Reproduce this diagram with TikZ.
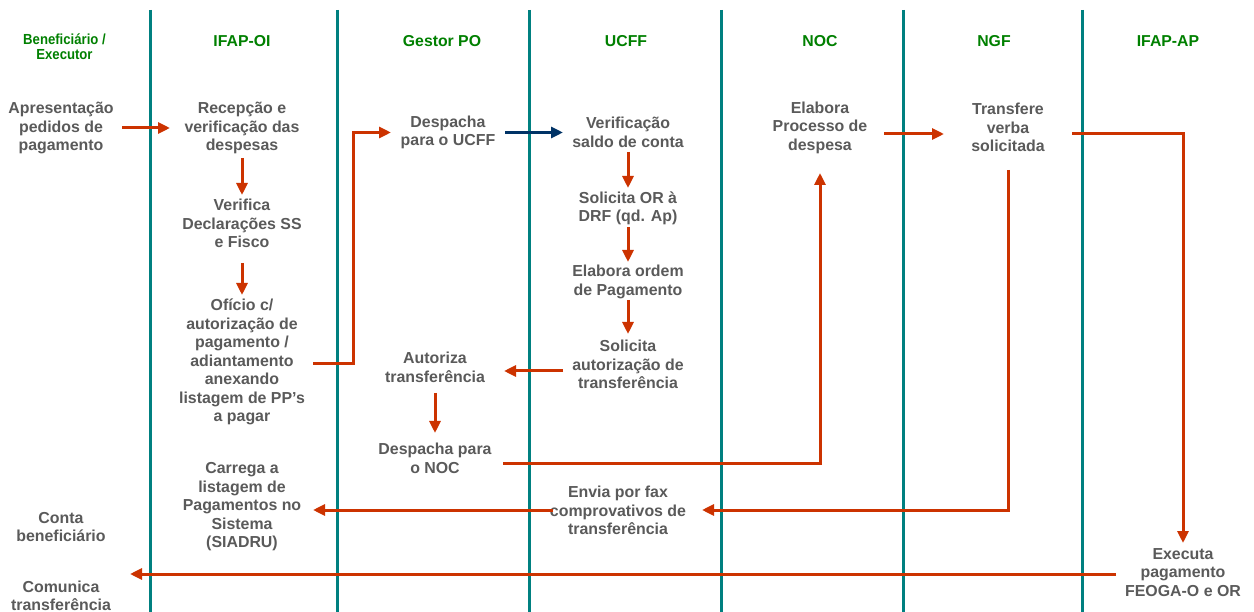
\documentclass[tikz,border=0pt]{standalone}
\usepackage{fontspec}
\setmainfont{Liberation Sans}
\newfontfamily\narrowhead[FakeStretch=0.9]{Liberation Sans}
\usetikzlibrary{arrows.meta,calc}
\definecolor{lanecol}{RGB}{0,128,128}
\definecolor{headcol}{RGB}{0,128,0}
\definecolor{txtcol}{RGB}{90,90,90}
\definecolor{arrcol}{RGB}{204,51,0}
\definecolor{bluearr}{RGB}{0,51,102}
\begin{document}
\begin{tikzpicture}[x=1pt,y=-1pt,
 lane/.style={draw=lanecol,line width=3pt},
 head/.style={text=headcol,font=\fontsize{15.8}{18}\selectfont\bfseries,inner sep=0pt,align=center},
 smallhead/.style={text=headcol,font=\narrowhead\fontsize{14.6}{15.3}\selectfont\bfseries,inner sep=0pt,align=center},
 task/.style={text=txtcol,font=\fontsize{15.9}{18.5}\selectfont\bfseries,inner sep=0pt,align=center},
 arr/.style={draw=arrcol,line width=3pt,-{Triangle[length=12pt,width=11pt]}},
 barr/.style={arr,draw=bluearr},
]
\fill[white] (0,0) rectangle (1254,612);
\useasboundingbox (0,0) rectangle (1254,612);

% swim lane separators
\foreach \lx in {150,337,529,721,903,1082}
  \draw[lane] (\lx,10) -- (\lx,612);

% headers
\node[smallhead] (h0) at (64.5,47) {Beneficiário /\\Executor};
\node[head] (h1) at (242,41) {IFAP-OI};
\node[head] (h2) at (442,41) {Gestor PO};
\node[head] (h3) at (626,41) {UCFF};
\node[head] (h4) at (820,41) {NOC};
\node[head] (h5) at (994,41) {NGF};
\node[head] (h6) at (1168,41) {IFAP-AP};

% tasks
\node[task] (apres) at (61,128) {Apresentação\\pedidos de\\pagamento};
\node[task] (conta) at (61,527) {Conta\\beneficiário};
\node[task] (comunica) at (61,596) {Comunica\\transferência};

\node[task] (recep) at (242,128) {Recepção e\\verificação das\\despesas};
\node[task] (verif) at (242,223.5) {Verifica\\Declarações SS\\e Fisco};
\node[task] (oficio) at (242,362) {Ofício c/\\autorização de\\pagamento /\\adiantamento\\anexando\\listagem de PP’s\\a pagar};
\node[task] (carrega) at (242,507) {Carrega a\\listagem de\\Pagamentos no\\Sistema\\(SIADRU)};

\node[task] (despU) at (448,132.5) {Despacha\\para o UCFF};
\node[task] (autoriza) at (435,367.5) {Autoriza\\transferência};
\node[task] (despNOC) at (435,458.5) {Despacha para\\o NOC};

\node[task] (verifS) at (628,132.5) {Verificação\\saldo de conta};
\node[task] (solOR) at (628,208.5) {Solicita OR à\\DRF (qd. Ap)};
\node[task] (elabOrd) at (628,282) {Elabora ordem\\de Pagamento};
\node[task] (solAut) at (628,364.5) {Solicita\\autorização de\\transferência};
\node[task] (envia) at (618,510.5) {Envia por fax\\comprovativos de\\transferência};

\node[task] (elabProc) at (820,127.5) {Elabora\\Processo de\\despesa};
\node[task] (transf) at (1008,127.5) {Transfere\\verba\\solicitada};
\node[task] (executa) at (1183,572.5) {Executa\\pagamento\\FEOGA-O e OR};

% connectors
\draw[arr] ($(apres)+(61,0)$) -- ($(recep)+(-72,0)$);
\draw[arr] ($(recep)+(0,30)$) -- ($(verif)+(0,-28.5)$);
\draw[arr] ($(verif)+(0,39.5)$) -- ($(oficio)+(0,-67)$);
\draw[arr] ($(oficio)+(71,2)$) -| ($(despU)+(-95,0)$) -- ($(despU)+(-57,0)$);
\draw[barr] ($(despU)+(57,0)$) -- ($(verifS)+(-65,0)$);
\draw[arr] ($(verifS)+(0,19.5)$) -- ($(solOR)+(0,-20.5)$);
\draw[arr] ($(solOR)+(0,18.5)$) -- ($(elabOrd)+(0,-20)$);
\draw[arr] ($(elabOrd)+(0,18)$) -- ($(solAut)+(0,-30.5)$);
\draw[arr] ($(solAut)+(-65,6.5)$) -- ($(autoriza)+(69,3.5)$);
\draw[arr] ($(autoriza)+(0,25.5)$) -- ($(despNOC)+(0,-25.5)$);
\draw[arr] ($(despNOC)+(68,4.5)$) -| ($(elabProc)+(0,45.5)$);
\draw[arr] ($(elabProc)+(64,6.5)$) -- ($(transf)+(-64,6.5)$);
\draw[arr] ($(transf)+(64,6.5)$) -| ($(executa)+(0,-29.5)$);
\draw[arr] ($(transf)+(0,42.5)$) |- ($(envia)+(84,-0.5)$);
\draw[arr] ($(envia)+(-65,-0.5)$) -- ($(carrega)+(71,3)$);
\draw[arr] ($(executa)+(-67,1.5)$) -- ($(conta)+(69,47)$);
\end{tikzpicture}
\end{document}
